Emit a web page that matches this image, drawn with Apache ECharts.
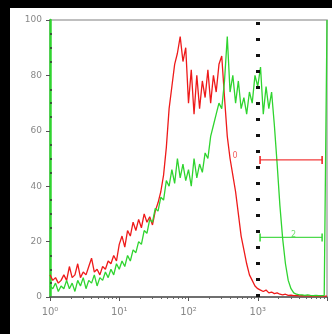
<!DOCTYPE html>
<html>
<head>
<meta charset="utf-8">
<script src="https://cdn.jsdelivr.net/npm/echarts@6/dist/echarts.min.js"></script>
<style>html,body{margin:0;padding:0;background:#000}#c{width:332px;height:334px}</style>
</head>
<body>
<div id="c"></div>
<script>
// channel positions (log10 of intensity)
const channelExp = [0.00,0.04,0.08,0.12,0.16,0.20,0.24,0.28,0.32,0.36,0.40,0.44,0.48,0.52,0.56,0.60,0.64,0.68,0.72,0.76,0.80,0.84,0.88,0.92,0.96,
1.00,1.04,1.08,1.12,1.16,1.20,1.24,1.28,1.32,1.36,1.40,1.44,1.48,1.52,1.56,1.60,1.64,1.68,1.72,1.76,1.80,1.84,1.88,1.92,1.96,
2.00,2.04,2.08,2.12,2.16,2.20,2.24,2.28,2.32,2.36,2.40,2.44,2.48,2.52,2.56,2.60,2.64,2.68,2.72,2.76,2.80,2.84,2.88,2.92,2.96,
3.00,3.04,3.08,3.12,3.16,3.20,3.24,3.28,3.32,3.36,3.40,3.44,3.48,3.52,3.56,3.60,3.64,3.68,3.72,3.76,3.80,3.84,3.88,3.92,3.96,4.00];

const redCounts = [8,6,7,5,6,8,6,11,7,8,12,7,9,8,11,14,9,10,8,11,10,13,12,15,13,
19,22,18,24,22,27,24,28,25,30,27,29,26,31,34,38,44,54,68,76,84,88,94,85,90,
70,82,66,80,68,78,72,82,70,80,74,84,87,72,58,50,44,38,30,22,17,12,8,6,4,
3,2.5,2,2.5,1.5,1.8,1.2,1.5,1,0.8,1,0.6,0.7,0.5,0.6,0.4,0.5,0.4,0.4,0.3,0.4,0.3,0.3,0.3,0.3,0.3];

const greenCounts = [4,3,5,2,4,3,6,3,5,2,6,4,7,3,6,5,8,4,7,6,9,7,10,8,12,
10,13,11,15,13,17,16,20,19,24,23,28,27,32,31,36,35,42,40,46,41,50,43,48,42,
46,40,50,43,48,45,52,50,58,62,66,70,68,78,94,74,80,70,78,68,72,66,74,70,80,
76,83,66,76,68,74,62,48,33,21,12,6,3,1.5,1,0.8,0.8,0.6,0.8,0.6,0.5,0.6,0.5,0.5,0.6,100];

const xTickLabels = ['10\u2070','10\u00b9','10\u00b2','10\u00b3',''];
const yTicks = [0,20,40,60,80,100];
const cutoff = 1000;
const redGate = {label:'0', from:1080, to:8500, y:49.5, labelX:470, labelY:51};
const greenGate = {label:'2', from:1080, to:8500, y:21.5, labelX:3300, labelY:22.5};

const redColor = '#ee1a1a';
const greenColor = '#2fd42f';

const redData = channelExp.map((e,i)=>[Math.pow(10,e), redCounts[i]]);
const greenData = channelExp.map((e,i)=>[Math.pow(10,e), greenCounts[i]]);

function gateSeries(g, color){
  return {
    type:'line',
    data:[[g.from,g.y],[g.to,g.y]],
    symbol:'rect', symbolSize:[1.5,8], showSymbol:true,
    itemStyle:{color:color},
    lineStyle:{color:color, width:1.2, opacity:0.85},
    silent:true, z:4,
    markPoint:{
      symbol:'circle', symbolSize:1,
      itemStyle:{color:'transparent'},
      label:{show:true, formatter:g.label, color:color, fontSize:8, opacity:0.7, fontFamily:'DejaVu Sans'},
      data:[{coord:[g.labelX, g.labelY]}]
    }
  };
}

const chart = echarts.init(document.getElementById('c'));
chart.setOption({
  backgroundColor:'#000',
  animation:false,
  graphic:[{type:'rect', shape:{x:10,y:8,width:322,height:326}, style:{fill:'#fff'}, z:-10, silent:true}],
  grid:{left:50, right:5, top:20, bottom:37, show:true, borderColor:'#aaa', borderWidth:1.5, backgroundColor:'transparent'},
  xAxis:{
    type:'log', min:1, max:10000, logBase:10,
    axisLine:{lineStyle:{color:'#555', width:1.5}},
    axisTick:{show:true, length:4, lineStyle:{color:'#555'}},
    minorTick:{show:true, splitNumber:9, length:2, lineStyle:{color:'#666'}},
    splitLine:{show:false},
    axisLabel:{
      margin:10, color:'#888', fontSize:10, fontFamily:'DejaVu Sans',
      formatter:function(v){ const e = Math.round(Math.log10(v)); return xTickLabels[e] || ''; }
    }
  },
  yAxis:{
    type:'value', min:0, max:100, interval:20,
    axisLine:{show:true, lineStyle:{color:greenColor, width:2.5}},
    axisTick:{show:true, length:4, lineStyle:{color:'#555'}},
    minorTick:{show:true, splitNumber:4, length:-2, lineStyle:{color:'#333', width:1.5}},
    splitLine:{show:false},
    axisLabel:{margin:8, color:'#888', fontSize:9, fontFamily:'DejaVu Sans',
      formatter:function(v){ return yTicks.indexOf(v)>=0 ? String(v) : ''; }}
  },
  series:[
    {type:'line', data:redData, showSymbol:false, lineStyle:{color:redColor, width:1.3}, z:3,
     markLine:{symbol:'none', silent:true, label:{show:false},
       lineStyle:{color:'#111', type:[3,13], width:4},
       data:[{xAxis:cutoff}]}},
    {type:'line', data:greenData, showSymbol:false, lineStyle:{color:greenColor, width:1.3}, z:3},
    gateSeries(redGate, redColor),
    gateSeries(greenGate, greenColor)
  ]
});
</script>
</body>
</html>
